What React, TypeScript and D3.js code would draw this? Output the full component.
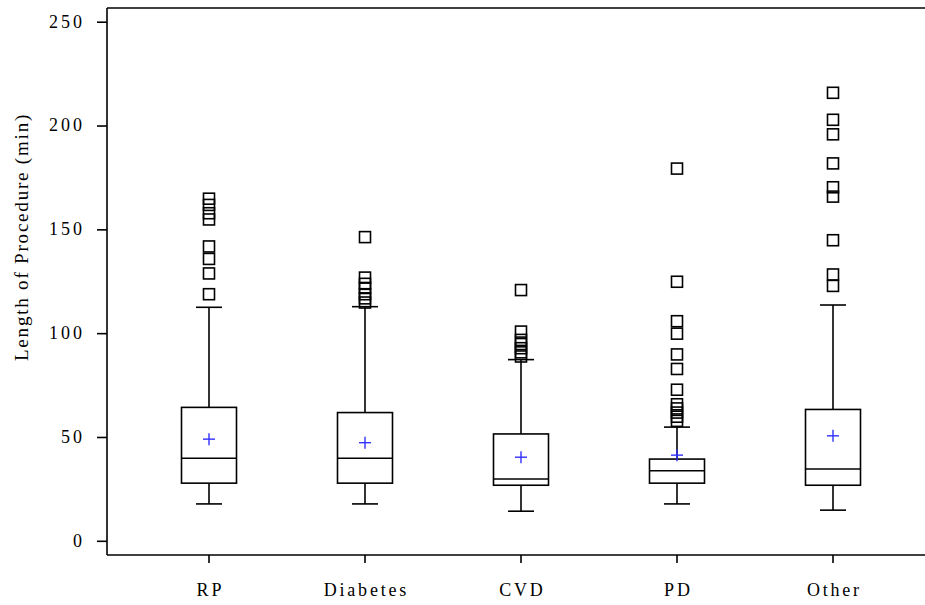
import React from "react";
import * as d3 from "d3";

const categories = ["RP", "Diabetes", "CVD", "PD", "Other"];
const lowerWhisker = [18, 18, 14.5, 18, 15];
const q1 = [28, 28, 27, 28, 27];
const median = [40, 40, 30, 34, 34.8];
const q3 = [64.5, 62, 51.7, 39.6, 63.5];
const upperWhisker = [112.7, 113, 87.5, 55, 113.8];
const means = [49.2, 47.5, 40.5, 41.5, 50.8];
const outliersRP = [119, 129, 136, 142, 155, 158, 162, 165];
const outliersDiabetes = [115, 117, 119, 122, 124, 127, 146.5];
const outliersCVD = [89, 91, 93, 95, 97, 101, 121];
const outliersPD = [58, 60, 62, 64, 66, 73, 83, 90, 100, 106, 125, 179.5];
const outliersOther = [123, 128.5, 145, 166, 170.5, 182, 196, 203, 216];
const outliers = [outliersRP, outliersDiabetes, outliersCVD, outliersPD, outliersOther];
const yTicks = [0, 50, 100, 150, 200, 250];
const yTitle = "Length of Procedure (min)";

const W = 925;
const H = 605;
const left = 107;
const top = 8;
const bottom = 555;

export default function App() {
  const y = d3.scaleLinear().domain([0, 250]).range([541.3, 22.2]);
  const x = d3.scaleBand().domain(categories).range([131, 911]).padding(0);
  const cx = (c: string) => (x(c) as number) + x.bandwidth() / 2;
  const boxW = 55;
  const capW = 26;
  const sq = 11;
  const font = "'Liberation Serif', 'DejaVu Serif', serif";
  const sw = 1.6;

  return (
    <svg width={W} height={H} style={{ position: "absolute", left: 0, top: 0, background: "#fff" }}>
      <rect x={0} y={0} width={W} height={H} fill="#fff" />
      {/* frame */}
      <line x1={left} x2={W} y1={top} y2={top} stroke="#000" strokeWidth={sw} />
      <line x1={left} x2={W} y1={bottom} y2={bottom} stroke="#000" strokeWidth={sw} />
      <line x1={left} x2={left} y1={top} y2={bottom} stroke="#000" strokeWidth={sw} />
      {/* y ticks */}
      {yTicks.map((t) => (
        <g key={t}>
          <line x1={left - 10} x2={left} y1={y(t)} y2={y(t)} stroke="#000" strokeWidth={sw} />
          <text x={left - 22} y={y(t)} dy="0.3em" textAnchor="end" fontFamily={font} fontSize={18} fill="#000" letterSpacing={3}>
            {t}
          </text>
        </g>
      ))}
      <text
        transform={`translate(28, 237) rotate(-90)`}
        textAnchor="middle"
        fontFamily={font}
        fontSize={19}
        fill="#000"
        letterSpacing={1.8}
      >
        {yTitle}
      </text>
      {/* x ticks */}
      {categories.map((c) => (
        <g key={c}>
          <line x1={cx(c)} x2={cx(c)} y1={bottom} y2={bottom + 8} stroke="#000" strokeWidth={sw} />
          <text x={cx(c) + 1.4} y={bottom + 41} textAnchor="middle" fontFamily={font} fontSize={18} fill="#000" letterSpacing={2.8}>
            {c}
          </text>
        </g>
      ))}
      {/* boxes */}
      {categories.map((c, i) => {
        const xc = cx(c);
        return (
          <g key={c} stroke="#000" strokeWidth={sw} fill="none">
            <line x1={xc} x2={xc} y1={y(q3[i])} y2={y(upperWhisker[i])} />
            <line x1={xc} x2={xc} y1={y(q1[i])} y2={y(lowerWhisker[i])} />
            <line x1={xc - capW / 2} x2={xc + capW / 2} y1={y(upperWhisker[i])} y2={y(upperWhisker[i])} />
            <line x1={xc - capW / 2} x2={xc + capW / 2} y1={y(lowerWhisker[i])} y2={y(lowerWhisker[i])} />
            <rect x={xc - boxW / 2} y={y(q3[i])} width={boxW} height={y(q1[i]) - y(q3[i])} />
            <line x1={xc - boxW / 2} x2={xc + boxW / 2} y1={y(median[i])} y2={y(median[i])} />
            {outliers[i].map((v, j) => (
              <rect key={j} x={xc - sq / 2} y={y(v) - sq / 2} width={sq} height={sq} fill="none" />
            ))}
            <line x1={xc - 6} x2={xc + 6} y1={y(means[i])} y2={y(means[i])} stroke="#3030ff" strokeWidth={1.4} />
            <line x1={xc} x2={xc} y1={y(means[i]) - 6} y2={y(means[i]) + 6} stroke="#3030ff" strokeWidth={1.4} />
          </g>
        );
      })}
    </svg>
  );
}
